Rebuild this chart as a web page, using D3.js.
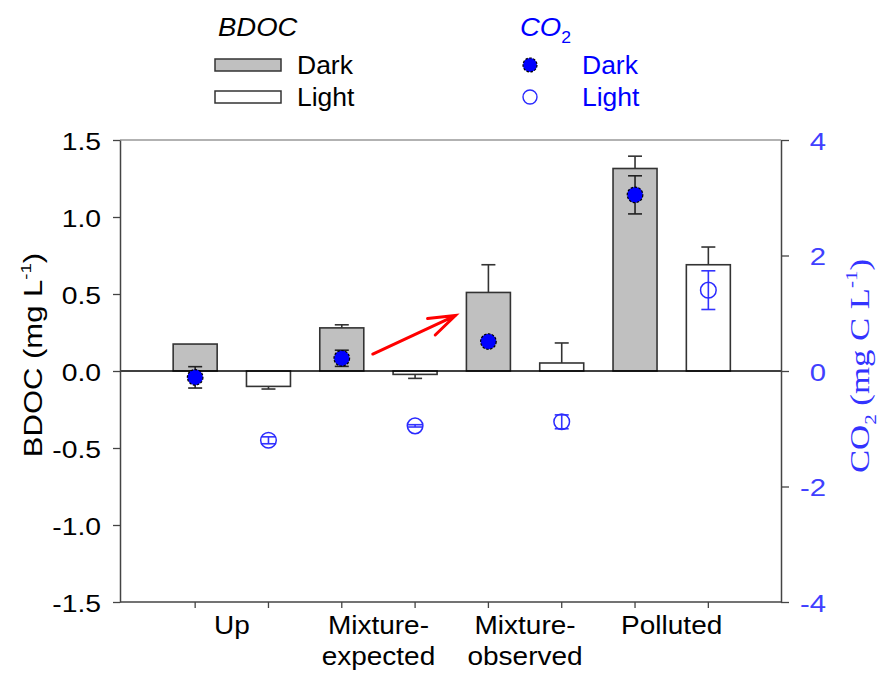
<!DOCTYPE html>
<html>
<head>
<meta charset="utf-8">
<script src="https://cdn.jsdelivr.net/npm/d3@7"></script>
<style>
  body { margin: 0; background: #fff; }
  text { font-family: "Liberation Sans", Arial, sans-serif; }
</style>
</head>
<body>
<svg id="chart" width="886" height="673"></svg>
<script>
// data
const categories = ["Up", "Mixture-expected", "Mixture-observed", "Polluted"];
const categoryLines = [["Up"], ["Mixture-", "expected"], ["Mixture-", "observed"], ["Polluted"]];
const treatments = ["Dark", "Light"];

// BDOC (mg L-1), left axis
const bdocDark = [0.175, 0.28, 0.51, 1.315];
const bdocDarkErr = [0, 0.02, 0.18, 0.08];
const bdocLight = [-0.10, -0.022, 0.052, 0.69];
const bdocLightErr = [0.017, 0.026, 0.13, 0.115];

// CO2 (mg C L-1), right axis
const co2Dark = [-0.11, 0.22, 0.51, 3.05];
const co2DarkErr = [0.185, 0.14, 0.03, 0.33];
const co2Light = [-1.2, -0.95, -0.88, 1.40];
const co2LightErr = [0.06, 0.02, 0.12, 0.335];

const bdocTicks = [-1.5, -1.0, -0.5, 0, 0.5, 1.0, 1.5];
const co2Ticks = [-4, -2, 0, 2, 4];

const svg = d3.select("#chart");
const pLeft = 120, pRight = 781, pTop = 140, pBottom = 602;
const blue = "#0000ff";

const x = d3.scaleBand().domain(categories).range([158.5, 745]);
const xs = d3.scaleBand().domain(treatments).range([0, x.bandwidth()]);
const yL = d3.scaleLinear().domain([-1.5, 1.5]).range([pBottom, pTop]);
const yR = d3.scaleLinear().domain([-4, 4]).range([pBottom, pTop]);
const barW = 44;
const cx = (c, t) => x(c) + xs(t) + xs.bandwidth() / 2;

// small helper: stretched text like the original export
function label(g, px, py, s, o = {}) {
  return g.append("text")
    .attr("transform", `translate(${px},${py})` + (o.rot ? ` rotate(${o.rot})` : "") + ` scale(${o.sx || 1},1)`)
    .attr("text-anchor", o.anchor || "start")
    .style("font-size", (o.size || 25) + "px")
    .style("font-style", o.italic ? "italic" : null)
    .style("font-family", o.family || null)
    .attr("fill", o.fill || "#000")
    .text(s);
}

const bars = categories.flatMap((c, i) => [
  {c, t: "Dark", v: bdocDark[i], e: bdocDarkErr[i]},
  {c, t: "Light", v: bdocLight[i], e: bdocLightErr[i]}
]);
const pts = categories.flatMap((c, i) => [
  {c, t: "Dark", v: co2Dark[i], e: co2DarkErr[i]},
  {c, t: "Light", v: co2Light[i], e: co2LightErr[i]}
]);

// frame lines
svg.append("line").attr("x1", pLeft).attr("x2", pRight).attr("y1", pTop).attr("y2", pTop)
  .attr("stroke", "#666").attr("stroke-width", 1.2);
svg.append("line").attr("x1", pLeft).attr("x2", pRight).attr("y1", pBottom).attr("y2", pBottom)
  .attr("stroke", "#444").attr("stroke-width", 1.5);

// bars
svg.append("g").selectAll("rect").data(bars).join("rect")
  .attr("x", d => cx(d.c, d.t) - barW / 2)
  .attr("y", d => Math.min(yL(d.v), yL(0)))
  .attr("width", barW)
  .attr("height", d => Math.abs(yL(d.v) - yL(0)))
  .attr("fill", d => d.t == "Dark" ? "#c0c0c0" : "#fff")
  .attr("stroke", "#333").attr("stroke-width", 1.6);

// bar error bars (one-sided)
const be = svg.append("g").attr("stroke", "#333").attr("stroke-width", 1.6);
bars.filter(d => d.e > 0).forEach(d => {
  const px = cx(d.c, d.t), y0 = yL(d.v), y1 = yL(d.v + Math.sign(d.v) * d.e);
  be.append("line").attr("x1", px).attr("x2", px).attr("y1", y0).attr("y2", y1);
  be.append("line").attr("x1", px - 7).attr("x2", px + 7).attr("y1", y1).attr("y2", y1);
});

// zero line
svg.append("line").attr("x1", pLeft).attr("x2", pRight).attr("y1", yL(0)).attr("y2", yL(0))
  .attr("stroke", "#000").attr("stroke-width", 1.5);

// CO2 error bars
const ce = svg.append("g").attr("stroke-width", 1.6);
pts.forEach(d => {
  const px = cx(d.c, d.t), col = d.t == "Dark" ? "#222" : "#3333ff";
  const ya = yR(d.v - d.e), yb = yR(d.v + d.e);
  ce.append("line").attr("x1", px).attr("x2", px).attr("y1", ya).attr("y2", yb).attr("stroke", col);
  [ya, yb].forEach(yy => ce.append("line").attr("x1", px - 7).attr("x2", px + 7)
    .attr("y1", yy).attr("y2", yy).attr("stroke", col));
});

// CO2 markers
svg.append("g").selectAll("circle").data(pts).join("circle")
  .attr("cx", d => cx(d.c, d.t))
  .attr("cy", d => yR(d.v))
  .attr("r", 7.8)
  .attr("fill", d => d.t == "Dark" ? blue : "none")
  .attr("stroke", d => d.t == "Dark" ? "#000" : "#2a2aff")
  .attr("stroke-width", d => d.t == "Dark" ? 1.2 : 1.5)
  .attr("stroke-dasharray", d => d.t == "Dark" ? "2.5 1.5" : null);

// left axis
const axL = svg.append("g").attr("transform", `translate(${pLeft},0)`)
  .call(d3.axisLeft(yL).tickValues(bdocTicks).tickSize(7).tickSizeOuter(0)
    .tickFormat(d => d.toFixed(1)));
axL.select(".domain").attr("stroke", "#444").attr("stroke-width", 1.5);
axL.selectAll(".tick line").attr("stroke", "#444").attr("stroke-width", 1.3);
axL.selectAll(".tick text").attr("x", null).attr("dy", null)
  .attr("transform", "translate(-19,9) scale(1.18,1)")
  .attr("text-anchor", "end").style("font-size", "24px").attr("fill", "#000")
  .style("font-family", "Liberation Sans, Arial, sans-serif");

// right axis
const axR = svg.append("g").attr("transform", `translate(${pRight},0)`)
  .call(d3.axisRight(yR).tickValues(co2Ticks).tickSize(8).tickSizeOuter(0)
    .tickFormat(d => String(d)));
axR.select(".domain").attr("stroke", "#444").attr("stroke-width", 1.5);
axR.selectAll(".tick line").attr("stroke", "#444").attr("stroke-width", 1.3);
axR.selectAll(".tick text").attr("x", null).attr("dy", null)
  .attr("transform", "translate(45,9) scale(1.22,1)")
  .attr("text-anchor", "end").style("font-size", "24px").attr("fill", "#4040ff")
  .style("font-family", "Liberation Sans, Arial, sans-serif");

// bottom ticks at bar centres
const xt = svg.append("g").attr("stroke", "#444").attr("stroke-width", 1.3);
bars.forEach(d => {
  const px = cx(d.c, d.t);
  xt.append("line").attr("x1", px).attr("x2", px).attr("y1", pBottom).attr("y2", pBottom + 6);
});

// category labels
categories.forEach((c, i) => {
  categoryLines[i].forEach((s, j) => {
    label(svg, x(c) + x.bandwidth() / 2, 634 + j * 31, s, {anchor: "middle", size: 25, sx: 1.12});
  });
});

// axis titles
const tL = label(svg, 42, 355, "BDOC (mg L", {anchor: "middle", rot: -90, size: 25, sx: 1.24});
tL.append("tspan").attr("dy", -11).style("font-size", "15px").text("-1");
tL.append("tspan").attr("dy", 11).text(")");

const tR = label(svg, 869, 366, "CO", {anchor: "middle", rot: -90, size: 28, sx: 1.24,
  family: "Liberation Serif, Times New Roman, serif", fill: "#3333ff"});
tR.append("tspan").attr("dy", 7).style("font-size", "17px").text("2");
tR.append("tspan").attr("dy", -7).text(" (mg C L");
tR.append("tspan").attr("dy", -12).style("font-size", "17px").text("-1");
tR.append("tspan").attr("dy", 12).text(")");

// red arrow annotation
const a0 = [cx("Mixture-expected", "Dark") + 31, yL(0.11)];
const a1 = [cx("Mixture-observed", "Dark") - 33, yL(0.36)];
const ang = Math.atan2(a0[1] - a1[1], a0[0] - a1[0]);
const arm = s => [a1[0] + 28 * Math.cos(ang + s), a1[1] + 28 * Math.sin(ang + s)];
svg.append("path")
  .attr("d", d3.line()([a0, a1]) + "M" + arm(0.33) + "L" + a1 + "L" + arm(-0.33))
  .attr("fill", "none").attr("stroke", "#ff0000").attr("stroke-width", 3)
  .attr("stroke-linecap", "round");

// legend
const lg = svg.append("g");
label(lg, 218, 36, "BDOC", {size: 25, italic: true, sx: 1.1});
treatments.forEach((t, i) => {
  const yy = 65 + i * 32;
  lg.append("rect").attr("x", 215).attr("y", yy - 6).attr("width", 66).attr("height", 12)
    .attr("fill", t == "Dark" ? "#c0c0c0" : "#fff").attr("stroke", "#333").attr("stroke-width", 1.5);
  label(lg, 297, yy + 9, t, {size: 25, sx: 1.06});
  lg.append("circle").attr("cx", 530).attr("cy", yy).attr("r", 7)
    .attr("fill", t == "Dark" ? blue : "#fff")
    .attr("stroke", t == "Dark" ? "#000" : "#2a2aff")
    .attr("stroke-width", t == "Dark" ? 1.2 : 1.4)
    .attr("stroke-dasharray", t == "Dark" ? "2.5 1.5" : null);
  label(lg, 582, yy + 9, t, {size: 25, sx: 1.06, fill: blue});
});
const co2l = label(lg, 520, 36, "CO", {size: 25, italic: true, sx: 1.1, fill: blue});
co2l.append("tspan").attr("dy", 7).style("font-size", "16px").style("font-style", "normal").text("2");
</script>
</body>
</html>
